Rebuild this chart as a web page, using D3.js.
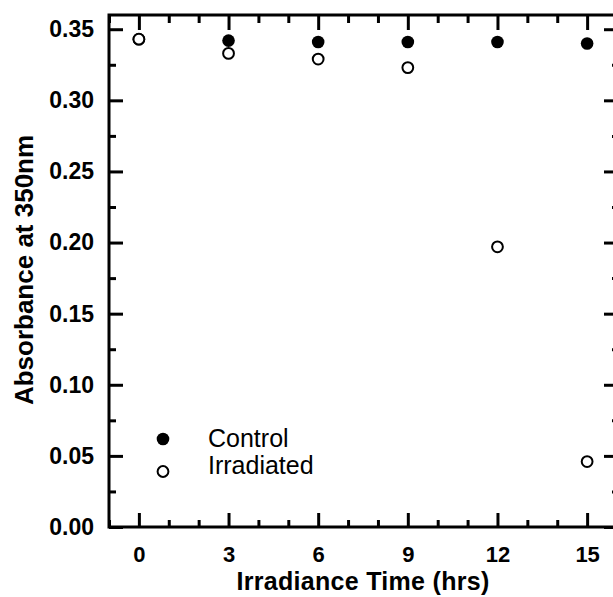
<!DOCTYPE html>
<html>
<head>
<meta charset="utf-8">
<script src="https://cdn.jsdelivr.net/npm/d3@7"></script>
<style>
  body { margin: 0; background: #fff; }
  svg { display: block; font-family: "Liberation Sans", Arial, sans-serif; }
  .axis path, .axis line { stroke: #000; stroke-width: 3; }
  .axis text { font-size: 23px; font-weight: bold; fill: #000; font-family: "Liberation Sans", Arial, sans-serif; }
  .axis.xlab text { font-size: 22px; }
</style>
</head>
<body>
<svg class="chart" width="613" height="597"></svg>
<script>
    // data
    var times = [0, 3, 6, 9, 12, 15];
    var control = [0.343, 0.342, 0.341, 0.341, 0.341, 0.340];
    var irradiated = [0.343, 0.333, 0.329, 0.323, 0.197, 0.046];
    var xTicks = [0, 3, 6, 9, 12, 15];
    var yTicks = [0, 0.05, 0.10, 0.15, 0.20, 0.25, 0.30, 0.35];

    var svg = d3.select("svg.chart");
    var margin = { top: 15, right: -4, bottom: 70, left: 109 };
    var width = 613 - margin.left - margin.right;
    var height = 597 - margin.top - margin.bottom;

    var x = d3.scaleLinear().domain([-1, 16]).range([0, width]);
    var y = d3.scaleLinear().domain([0, 0.36]).range([height, 0]);

    var g = svg.append("g").attr("transform", "translate(" + margin.left + "," + margin.top + ")");

    var xMinor = d3.range(-1, 17, 1).filter(function (d) { return xTicks.indexOf(d) < 0; });
    var yMinor = d3.range(0.025, 0.36, 0.05);

    function noLine(sel) { sel.select(".domain").remove(); }

    // frame
    g.append("rect")
        .attr("width", width).attr("height", height)
        .attr("fill", "none").attr("stroke", "#000").attr("stroke-width", 3);

    // bottom axis, ticks pointing inward
    g.append("g").attr("class", "axis")
        .attr("transform", "translate(0," + height + ")")
        .call(d3.axisTop(x).tickValues(xTicks).tickSize(14).tickFormat(""))
        .call(noLine);
    g.append("g").attr("class", "axis")
        .attr("transform", "translate(0," + height + ")")
        .call(d3.axisTop(x).tickValues(xMinor).tickSize(7).tickFormat(""))
        .call(noLine);
    g.append("g").attr("class", "axis xlab")
        .attr("transform", "translate(0," + height + ")")
        .call(d3.axisBottom(x).tickValues(xTicks).tickSize(0).tickPadding(19).tickFormat(d3.format("d")))
        .call(noLine);

    // top axis
    g.append("g").attr("class", "axis")
        .call(d3.axisBottom(x).tickValues(xTicks).tickSize(15).tickFormat(""))
        .call(noLine);
    g.append("g").attr("class", "axis")
        .call(d3.axisBottom(x).tickValues(xMinor).tickSize(8).tickFormat(""))
        .call(noLine);

    // left axis
    g.append("g").attr("class", "axis")
        .call(d3.axisRight(y).tickValues(yTicks).tickSize(14).tickFormat(""))
        .call(noLine);
    g.append("g").attr("class", "axis")
        .call(d3.axisRight(y).tickValues(yMinor).tickSize(7).tickFormat(""))
        .call(noLine);
    g.append("g").attr("class", "axis")
        .call(d3.axisLeft(y).tickValues(yTicks).tickSize(0).tickPadding(15).tickFormat(d3.format(".2f")))
        .call(noLine);

    // right axis
    g.append("g").attr("class", "axis")
        .attr("transform", "translate(" + width + ",0)")
        .call(d3.axisLeft(y).tickValues(yTicks).tickSize(13).tickFormat(""))
        .call(noLine);
    g.append("g").attr("class", "axis")
        .attr("transform", "translate(" + width + ",0)")
        .call(d3.axisLeft(y).tickValues(yMinor).tickSize(5).tickFormat(""))
        .call(noLine);

    // points
    g.append("g").selectAll("circle")
        .data(times)
        .enter().append("circle")
        .attr("cx", function (d) { return x(d); })
        .attr("cy", function (d, i) { return y(control[i]); })
        .attr("r", 6.3)
        .attr("fill", "#000");

    g.append("g").selectAll("circle")
        .data(times)
        .enter().append("circle")
        .attr("cx", function (d) { return x(d); })
        .attr("cy", function (d, i) { return y(irradiated[i]); })
        .attr("r", 5.4)
        .attr("fill", "#fff")
        .attr("stroke", "#000")
        .attr("stroke-width", 2);

    // legend
    var legend = svg.append("g").attr("transform", "translate(163,439)");
    legend.append("circle").attr("r", 6.3).attr("fill", "#000");
    legend.append("circle").attr("cy", 32.5).attr("r", 5.4)
        .attr("fill", "#fff").attr("stroke", "#000").attr("stroke-width", 2);
    legend.append("text").attr("x", 45).attr("y", 8).attr("font-size", 25).text("Control");
    legend.append("text").attr("x", 45).attr("y", 35).attr("font-size", 25).text("Irradiated");

    // axis titles
    svg.append("text")
        .attr("x", 363).attr("y", 590)
        .attr("text-anchor", "middle")
        .attr("font-size", 25).attr("font-weight", "bold")
        .attr("letter-spacing", 0.3)
        .text("Irradiance Time (hrs)");

    svg.append("text")
        .attr("transform", "translate(33,270) rotate(-90)")
        .attr("text-anchor", "middle")
        .attr("font-size", 26).attr("font-weight", "bold")
        .text("Absorbance at 350nm");
</script>
</body>
</html>
